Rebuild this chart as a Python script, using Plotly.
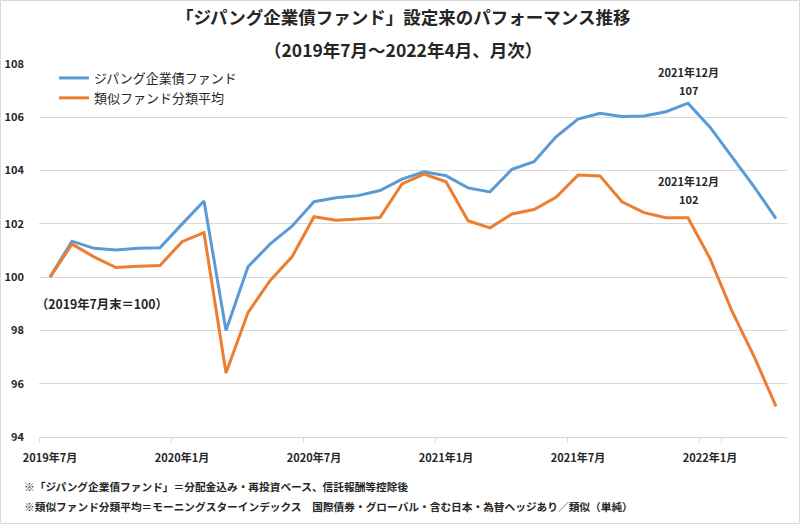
import plotly.graph_objects as go

months = [
    "2019-07", "2019-08", "2019-09", "2019-10", "2019-11", "2019-12",
    "2020-01", "2020-02", "2020-03", "2020-04", "2020-05", "2020-06",
    "2020-07", "2020-08", "2020-09", "2020-10", "2020-11", "2020-12",
    "2021-01", "2021-02", "2021-03", "2021-04", "2021-05", "2021-06",
    "2021-07", "2021-08", "2021-09", "2021-10", "2021-11", "2021-12",
    "2022-01", "2022-02", "2022-03", "2022-04",
]
zipang = [
    100.0, 101.35, 101.08, 101.02, 101.08, 101.1,
    101.99, 102.86, 98.0, 100.39, 101.24, 101.91,
    102.83, 102.98, 103.06, 103.25, 103.68, 103.95,
    103.81, 103.35, 103.2, 104.05, 104.33, 105.27,
    105.93, 106.15, 106.03, 106.05, 106.21, 106.53,
    105.63, 104.5, 103.4, 102.2,
]
peer_avg = [
    100.0, 101.24, 100.76, 100.36, 100.41, 100.44,
    101.33, 101.67, 96.4, 98.67, 99.87, 100.76,
    102.27, 102.14, 102.18, 102.24, 103.5, 103.87,
    103.58, 102.12, 101.85, 102.37, 102.54, 103.0,
    103.83, 103.8, 102.83, 102.42, 102.23, 102.23,
    100.7, 98.72, 97.03, 95.15,
]
tick_months = ["2019-07", "2020-01", "2020-07", "2021-01", "2021-07", "2022-01"]
tick_text = ["2019年7月", "2020年1月", "2020年7月", "2021年1月", "2021年7月", "2022年1月"]
y_ticks = [94, 96, 98, 100, 102, 104, 106, 108]

FONT = "Noto Sans CJK JP"
TXT = "#262626"
BLUE = "#5B9BD5"
ORANGE = "#ED7D31"

fig = go.Figure()
fig.add_trace(go.Scatter(x=months, y=zipang, mode="lines", name="ジパング企業債ファンド",
                         line=dict(color=BLUE, width=3)))
fig.add_trace(go.Scatter(x=months, y=peer_avg, mode="lines", name="類似ファンド分類平均",
                         line=dict(color=ORANGE, width=3)))

peak_idx = months.index("2021-12")
annots = []
title_lines = [("「ジパング企業債ファンド」設定来のパフォーマンス推移", 17),
               ("（2019年7月～2022年4月、月次）", 50)]
for t, py in title_lines:
    annots.append(dict(text="<b>" + t + "</b>", x=(403 - 39) / 748, y=(437 - py) / 373,
                       xref="paper", yref="paper", showarrow=False, xanchor="center", yanchor="middle",
                       font=dict(size=17.5, color=TXT, family=FONT)))

annots.append(dict(text="<b>2021年12月</b>", x=months[peak_idx], y=108, yshift=-8, xref="x", yref="y",
                   showarrow=False, font=dict(size=11, color=TXT, family=FONT)))
annots.append(dict(text="<b>%d</b>" % round(zipang[peak_idx]), x=months[peak_idx], y=108, yshift=-26, xref="x", yref="y",
                   showarrow=False, font=dict(size=11, color=TXT, family=FONT)))
annots.append(dict(text="<b>2021年12月</b>", x=months[peak_idx], y=peer_avg[peak_idx], yshift=37, xref="x", yref="y",
                   showarrow=False, font=dict(size=11, color=TXT, family=FONT)))
annots.append(dict(text="<b>%d</b>" % round(peer_avg[peak_idx]), x=months[peak_idx], y=peer_avg[peak_idx], yshift=19, xref="x", yref="y",
                   showarrow=False, font=dict(size=11, color=TXT, family=FONT)))
annots.append(dict(text="<b>（2019年7月末＝100）</b>", x=(34 - 39) / 748, y=(437 - 304) / 373, xref="paper", yref="paper",
                   xanchor="left", yanchor="middle", showarrow=False, font=dict(size=12.3, color=TXT, family=FONT)))

notes = [("※「ジパング企業債ファンド」＝分配金込み・再投資ベース、信託報酬等控除後", 486),
         ("※類似ファンド分類平均＝モーニングスターインデックス　国際債券・グローバル・含む日本・為替ヘッジあり／類似（単純）", 507)]
for t, py in notes:
    annots.append(dict(text="<b>" + t + "</b>", x=(22 - 39) / 748, y=(437 - py) / 373, xref="paper", yref="paper",
                       xanchor="left", yanchor="middle", showarrow=False, font=dict(size=10.7, color=TXT, family=FONT)))

fig.update_layout(
    width=800, height=524,
    margin=dict(l=39, r=13, t=64, b=87, autoexpand=False),
    paper_bgcolor="white", plot_bgcolor="white",
    font=dict(family=FONT, color=TXT),
    showlegend=True,
    legend=dict(x=(54 - 39) / 748, y=(437 - 63) / 373, xanchor="left", yanchor="top",
                bgcolor="rgba(0,0,0,0)", font=dict(size=13, color=TXT, family=FONT),
                tracegroupgap=0, itemwidth=30),
    annotations=annots,
    shapes=[dict(type="rect", xref="paper", yref="paper",
                 x0=-38.5 / 748, x1=(799.5 - 39) / 748, y0=(437 - 523.5) / 373, y1=(437 - 0.5) / 373,
                 line=dict(color="#d9d9d9", width=1), fillcolor="rgba(0,0,0,0)", layer="below")],
)
fig.update_xaxes(
    type="category", range=[-0.5, len(months) - 0.5], automargin=False,
    tickmode="array", tickvals=tick_months, ticktext=["<b>%s</b>" % t for t in tick_text],
    tickangle=0, ticklabelstandoff=11,
    tickson="boundaries", ticks="outside", ticklen=5, tickcolor="#d9d9d9",
    showgrid=False, showline=True, linecolor="#d9d9d9", linewidth=1,
    tickfont=dict(size=11, color=TXT, family=FONT),
)
fig.update_yaxes(
    range=[94, 108], automargin=False, tickmode="array", tickvals=y_ticks, ticktext=["<b>%d</b>" % v for v in y_ticks],
    showgrid=True, gridcolor="#d9d9d9", gridwidth=1, zeroline=False, showline=False,
    ticks="", ticklabelstandoff=14,
    tickfont=dict(size=11, color=TXT, family=FONT),
)
fig.write_html("out.html", config={"displayModeBar": False},
               post_script="document.body.style.margin='0';document.body.style.overflow='hidden';")
